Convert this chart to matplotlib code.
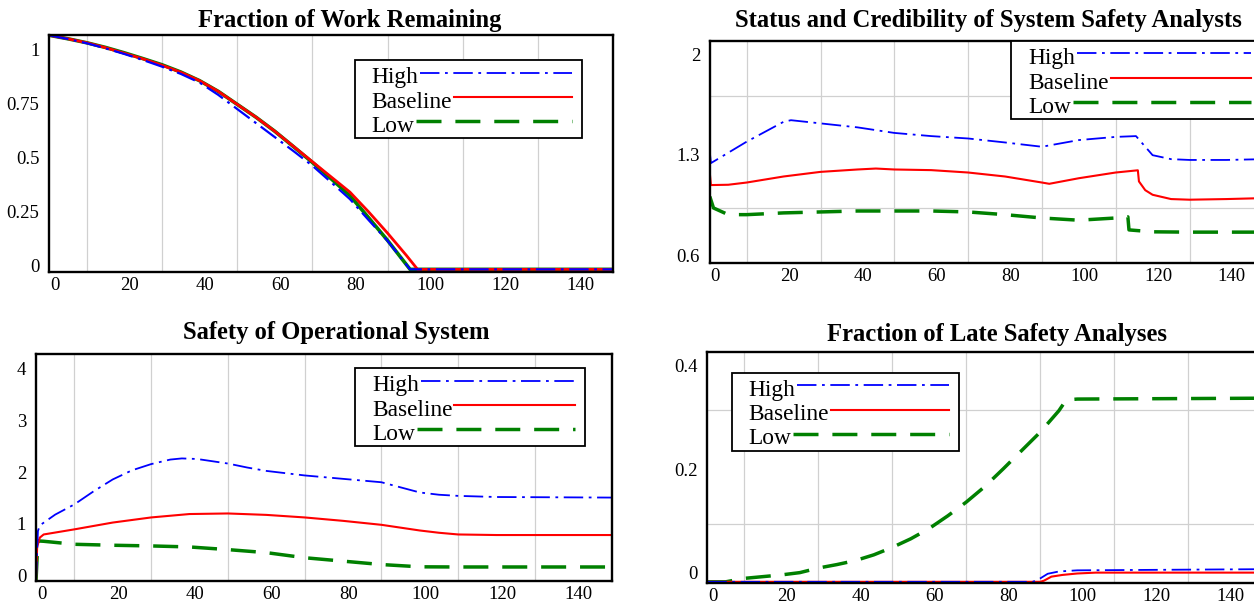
import matplotlib
matplotlib.use("Agg")
import matplotlib.pyplot as plt
import matplotlib.transforms as mtransforms
from matplotlib.lines import Line2D
from matplotlib.patches import Rectangle

plt.rcParams['font.family'] = ['Liberation Serif', 'DejaVu Serif']
plt.rcParams['lines.scale_dashes'] = False

W, H = 1254, 610

# ---- Fraction of Work Remaining
work_high_t = [0, 5, 10, 15, 20, 25, 30, 35, 40, 45, 50, 55, 60, 65, 70, 75, 80, 85, 90, 96, 150]
work_high = [1.0, 0.984, 0.966, 0.944, 0.920, 0.894, 0.866, 0.835, 0.798, 0.745, 0.685, 0.625, 0.565, 0.505, 0.443, 0.372, 0.300, 0.210, 0.122, 0.0, 0.0]
work_base_t = [0, 5, 10, 15, 20, 25, 30, 35, 40, 45, 50, 55, 60, 65, 70, 75, 80, 85, 90, 95, 98, 150]
work_base = [1.0, 0.985, 0.968, 0.947, 0.923, 0.899, 0.872, 0.842, 0.806, 0.760, 0.705, 0.650, 0.590, 0.525, 0.460, 0.395, 0.330, 0.245, 0.155, 0.060, 0.0, 0.0]
work_low_t = [0, 5, 10, 15, 20, 25, 30, 35, 40, 45, 50, 55, 60, 65, 70, 75, 80, 85, 90, 96, 150]
work_low = [1.0, 0.985, 0.968, 0.948, 0.925, 0.900, 0.874, 0.843, 0.806, 0.760, 0.705, 0.650, 0.590, 0.524, 0.457, 0.387, 0.315, 0.220, 0.124, 0.0, 0.0]

# ---- Status and Credibility of System Safety Analysts
stat_high_t = [0, 0.3, 10, 20, 22, 30, 40, 50, 60, 70, 80, 90, 100, 110, 115.5, 120, 125, 130, 140, 150]
stat_high = [1.30, 1.23, 1.365, 1.49, 1.50, 1.48, 1.455, 1.42, 1.40, 1.385, 1.36, 1.333, 1.375, 1.395, 1.40, 1.28, 1.255, 1.25, 1.25, 1.255]
stat_base_t = [0, 0.3, 5, 10, 20, 30, 40, 45, 50, 60, 70, 80, 90, 92, 100, 110, 116, 116.3, 118, 120, 125, 130, 140, 150]
stat_base = [1.167, 1.092, 1.094, 1.108, 1.146, 1.175, 1.19, 1.196, 1.19, 1.186, 1.171, 1.146, 1.108, 1.10, 1.135, 1.171, 1.185, 1.115, 1.06, 1.031, 1.004, 1.0, 1.004, 1.01]
stat_low_t = [0, 1, 5, 10, 20, 30, 40, 50, 60, 70, 80, 90, 100, 110, 113.3, 113.6, 120, 130, 140, 150]
stat_low = [1.02, 0.948, 0.906, 0.906, 0.917, 0.923, 0.929, 0.929, 0.929, 0.923, 0.906, 0.885, 0.871, 0.885, 0.892, 0.81, 0.798, 0.796, 0.796, 0.796]

# ---- Safety of Operational System
safe_high_t = [0, 0.5, 1, 5, 10, 15, 20, 25, 30, 35, 38, 42, 50, 55, 60, 70, 80, 90, 95, 100, 105, 110, 120, 150]
safe_high = [0, 0.88, 0.98, 1.17, 1.35, 1.58, 1.79, 1.95, 2.06, 2.14, 2.16, 2.15, 2.07, 2.00, 1.94, 1.86, 1.80, 1.74, 1.65, 1.56, 1.52, 1.50, 1.48, 1.47]
safe_base_t = [0, 0.3, 1, 2, 10, 20, 30, 40, 50, 60, 70, 80, 90, 95, 100, 105, 110, 120, 150]
safe_base = [0, 0.6, 0.765, 0.82, 0.91, 1.03, 1.12, 1.18, 1.19, 1.165, 1.12, 1.06, 0.99, 0.94, 0.89, 0.85, 0.82, 0.81, 0.81]
safe_low_t = [0, 0.5, 2, 10, 20, 30, 40, 50, 60, 70, 80, 90, 100, 110, 150]
safe_low = [0, 0.706, 0.70, 0.647, 0.63, 0.618, 0.60, 0.553, 0.50, 0.41, 0.35, 0.29, 0.25, 0.247, 0.247]

# ---- Fraction of Late Safety Analyses
late_high_t = [0, 88, 90, 92, 95, 100, 150]
late_high = [0, 0, 0.006, 0.014, 0.018, 0.020, 0.022]
late_base_t = [0, 90, 91, 93, 96, 100, 105, 150]
late_base = [0, 0, 0.002, 0.009, 0.012, 0.0145, 0.016, 0.016]
late_low_t = [0, 5, 10, 15, 20, 25, 30, 35, 40, 45, 50, 55, 60, 65, 70, 75, 80, 85, 90, 95, 97, 100, 150]
late_low = [0, 0, 0.006, 0.009, 0.012, 0.016, 0.024, 0.030, 0.037, 0.047, 0.060, 0.075, 0.093, 0.115, 0.139, 0.166, 0.197, 0.229, 0.261, 0.298, 0.317, 0.3185, 0.32]

names = ["High", "Baseline", "Low"]
styles = {
    "High": dict(color="#0000ff", lw=1.3, dashes=(14, 4, 2, 4)),
    "Baseline": dict(color="#ff0000", lw=1.5),
    "Low": dict(color="#008000", lw=2.5, dashes=(18, 10)),
}

fig = plt.figure(figsize=(W / 100, H / 100), dpi=100)


def make_axes(x0, y0, x1, y1):
    return fig.add_axes([x0 / W, 1 - y1 / H, (x1 - x0) / W, (y1 - y0) / H])


def style_axes(ax, ylim, ygrid, ylabels, ytexts, lab_a, lab_b):
    ax.set_xlim(0, 150)
    ax.set_ylim(*ylim)
    ax.set_xticks(range(0, 150, 20))
    ax.set_xticks(range(10, 150, 10), minor=True)
    ax.set_yticks(ylabels, ytexts)
    ax.set_yticks(ygrid, minor=True)
    ax.grid(False, which='major')
    ax.grid(True, which='minor', color='#d0d0d0', lw=0.9)
    ax.tick_params(which='both', length=0, labelsize=13.5)
    ax.tick_params(axis='x', pad=3.5)
    ax.tick_params(axis='y', pad=7)
    for sp in ax.spines.values():
        sp.set_linewidth(1.7)
    # label placement like the original tool: shifted slightly right / compressed
    off = mtransforms.ScaledTranslation(5.5 / 100, 0, fig.dpi_scale_trans)
    for lbl in ax.get_xticklabels():
        lbl.set_transform(lbl.get_transform() + off)
    h_px = ax.get_position().height * H
    lo, hi = ylim
    vmin, vmax = min(ylabels), max(ylabels)
    for v, lbl in zip(ylabels, ax.get_yticklabels()):
        want = lab_a + lab_b * (v - vmin) / (vmax - vmin)
        actual = (v - lo) / (hi - lo)
        dy = (want - actual) * h_px
        lbl.set_transform(lbl.get_transform() + mtransforms.ScaledTranslation(0, dy / 100, fig.dpi_scale_trans))


def plot_series(ax, data, **over):
    for name in ["Low", "Baseline", "High"]:
        t, v = data[name]
        st = dict(styles[name])
        st.update(over.get(name, {}))
        ax.plot(t, v, **st)


def add_title(cx, base, text):
    fig.text(cx / W, 1 - base / H, text, ha='center', va='baseline',
             fontsize=17.7, fontweight='bold')


def add_legend(x0, y0, width, height=78):
    r = fig.canvas.get_renderer()
    fig.add_artist(Rectangle((x0 / W, 1 - (y0 + height) / H), width / W, height / H,
                             transform=fig.transFigure, facecolor='white',
                             edgecolor='black', lw=1.3, zorder=5))
    for name, base in zip(names, [23.5, 48, 72]):
        txt = fig.text((x0 + 17) / W, 1 - (y0 + base) / H, name, fontsize=16.8,
                       ha='left', va='baseline', zorder=6)
        xe = txt.get_window_extent(r).x1
        ly = 1 - (y0 + base - 11) / H
        fig.add_artist(Line2D([(xe + 2) / W, (x0 + width - 10) / W], [ly, ly],
                              transform=fig.transFigure, zorder=6, **styles[name]))


# top-left
ax1 = make_axes(49.3, 35.3, 613, 271.7)
plot_series(ax1, {"High": (work_high_t, work_high), "Baseline": (work_base_t, work_base), "Low": (work_low_t, work_low)},
            Low=dict(dashes=(None, None), linestyle='-', lw=2.6), Baseline=dict(lw=2.0), High=dict(lw=1.6))
style_axes(ax1, (-0.01, 1.0), [0.25, 0.5, 0.75], [0, 0.25, 0.5, 0.75, 1], ["0", "0.25", "0.5", "0.75", "1"], 0.028, 0.912)
add_title(350, 26.5, "Fraction of Work Remaining")

# top-right
ax2 = make_axes(709.8, 40.7, 709.8 + 150 * 3.69, 263.3)
plot_series(ax2, {"High": (stat_high_t, stat_high), "Baseline": (stat_base_t, stat_base), "Low": (stat_low_t, stat_low)})
style_axes(ax2, (0.6, 2.0), [0.95, 1.3, 1.65], [0.6, 1.3, 2.0], ["0.6", "1.3", "2"], 0.037, 0.903)
add_title(988, 26.5, "Status and Credibility of System Safety Analysts")

# bottom-left
ax3 = make_axes(36, 354, 611.7, 581)
plot_series(ax3, {"High": (safe_high_t, safe_high), "Baseline": (safe_base_t, safe_base), "Low": (safe_low_t, safe_low)})
style_axes(ax3, (0, 4), [1, 2, 3], [0, 1, 2, 3, 4], ["0", "1", "2", "3", "4"], 0.026, 0.908)
add_title(336, 339.5, "Safety of Operational System")

# bottom-right
ax4 = make_axes(707.3, 352.3, 707.3 + 150 * 3.7, 583.3)
plot_series(ax4, {"High": (late_high_t, late_high), "Baseline": (late_base_t, late_base), "Low": (late_low_t, late_low)})
style_axes(ax4, (-0.0026, 0.4), [0.1, 0.2, 0.3], [0, 0.2, 0.4], ["0", "0.2", "0.4"], 0.047, 0.894)
add_title(997, 340.5, "Fraction of Late Safety Analyses")

add_legend(354.5, 60, 227)
add_legend(1011, 40.7, 250)
add_legend(355, 368, 230)
add_legend(731.5, 372.5, 227)

fig.savefig("out.png", dpi=100)
